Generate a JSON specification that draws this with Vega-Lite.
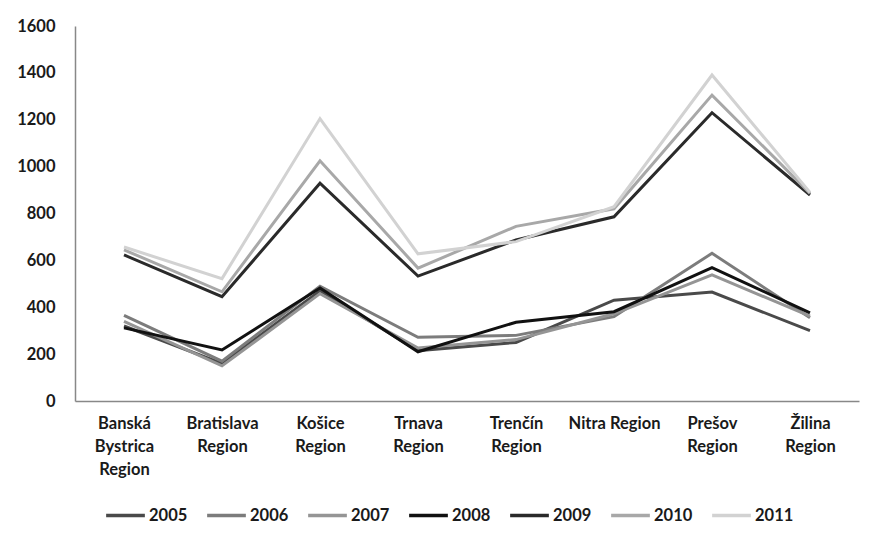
{
  "$schema": "https://vega.github.io/schema/vega-lite/v6.json",
  "width": 784,
  "height": 375,
  "autosize": {"type": "none"},
  "padding": {"left": 75, "top": 26, "right": 16, "bottom": 140},
  "background": "white",
  "data": {
    "values": [
      {"region": "Banská Bystrica Region", "year": "2005", "value": 320},
      {"region": "Bratislava Region", "year": "2005", "value": 160},
      {"region": "Košice Region", "year": "2005", "value": 470},
      {"region": "Trnava Region", "year": "2005", "value": 215},
      {"region": "Trenčín Region", "year": "2005", "value": 250},
      {"region": "Nitra Region", "year": "2005", "value": 430},
      {"region": "Prešov Region", "year": "2005", "value": 465},
      {"region": "Žilina Region", "year": "2005", "value": 300},

      {"region": "Banská Bystrica Region", "year": "2006", "value": 365},
      {"region": "Bratislava Region", "year": "2006", "value": 170},
      {"region": "Košice Region", "year": "2006", "value": 490},
      {"region": "Trnava Region", "year": "2006", "value": 272},
      {"region": "Trenčín Region", "year": "2006", "value": 280},
      {"region": "Nitra Region", "year": "2006", "value": 360},
      {"region": "Prešov Region", "year": "2006", "value": 630},
      {"region": "Žilina Region", "year": "2006", "value": 355},

      {"region": "Banská Bystrica Region", "year": "2007", "value": 340},
      {"region": "Bratislava Region", "year": "2007", "value": 150},
      {"region": "Košice Region", "year": "2007", "value": 458},
      {"region": "Trnava Region", "year": "2007", "value": 226},
      {"region": "Trenčín Region", "year": "2007", "value": 262},
      {"region": "Nitra Region", "year": "2007", "value": 372},
      {"region": "Prešov Region", "year": "2007", "value": 538},
      {"region": "Žilina Region", "year": "2007", "value": 362},

      {"region": "Banská Bystrica Region", "year": "2008", "value": 312},
      {"region": "Bratislava Region", "year": "2008", "value": 218},
      {"region": "Košice Region", "year": "2008", "value": 482},
      {"region": "Trnava Region", "year": "2008", "value": 210},
      {"region": "Trenčín Region", "year": "2008", "value": 336},
      {"region": "Nitra Region", "year": "2008", "value": 381},
      {"region": "Prešov Region", "year": "2008", "value": 569},
      {"region": "Žilina Region", "year": "2008", "value": 376},

      {"region": "Banská Bystrica Region", "year": "2009", "value": 623},
      {"region": "Bratislava Region", "year": "2009", "value": 445},
      {"region": "Košice Region", "year": "2009", "value": 929},
      {"region": "Trnava Region", "year": "2009", "value": 533},
      {"region": "Trenčín Region", "year": "2009", "value": 687},
      {"region": "Nitra Region", "year": "2009", "value": 786},
      {"region": "Prešov Region", "year": "2009", "value": 1230},
      {"region": "Žilina Region", "year": "2009", "value": 879},

      {"region": "Banská Bystrica Region", "year": "2010", "value": 645},
      {"region": "Bratislava Region", "year": "2010", "value": 466},
      {"region": "Košice Region", "year": "2010", "value": 1025},
      {"region": "Trnava Region", "year": "2010", "value": 567},
      {"region": "Trenčín Region", "year": "2010", "value": 745},
      {"region": "Nitra Region", "year": "2010", "value": 820},
      {"region": "Prešov Region", "year": "2010", "value": 1305},
      {"region": "Žilina Region", "year": "2010", "value": 886},

      {"region": "Banská Bystrica Region", "year": "2011", "value": 657},
      {"region": "Bratislava Region", "year": "2011", "value": 522},
      {"region": "Košice Region", "year": "2011", "value": 1205},
      {"region": "Trnava Region", "year": "2011", "value": 628},
      {"region": "Trenčín Region", "year": "2011", "value": 680},
      {"region": "Nitra Region", "year": "2011", "value": 829},
      {"region": "Prešov Region", "year": "2011", "value": 1391},
      {"region": "Žilina Region", "year": "2011", "value": 890}
    ]
  },
  "mark": {"type": "line", "strokeWidth": 3, "strokeJoin": "miter"},
  "encoding": {
    "x": {
      "field": "region",
      "type": "nominal",
      "sort": null,
      "scale": {"type": "point", "padding": 0.5},
      "axis": {
        "title": null,
        "labelAngle": 0,
        "ticks": false,
        "grid": false,
        "domainColor": "#888888",
        "domainWidth": 1.5,
        "labelPadding": 14,
        "labelLineHeight": 23,
        "labelBaseline": "top",
        "labelExpr": "datum.label == 'Nitra Region' ? datum.label : split(datum.label, ' ')"
      }
    },
    "y": {
      "field": "value",
      "type": "quantitative",
      "scale": {"domain": [0, 1600], "nice": false},
      "axis": {
        "title": null,
        "values": [0, 200, 400, 600, 800, 1000, 1200, 1400, 1600],
        "format": "d",
        "ticks": false,
        "grid": false,
        "domainColor": "#888888",
        "domainWidth": 1.5,
        "labelPadding": 20
      }
    },
    "color": {
      "field": "year",
      "type": "nominal",
      "scale": {
        "domain": ["2005", "2006", "2007", "2008", "2009", "2010", "2011"],
        "range": ["#4a4a4a", "#7c7c7c", "#959595", "#111111", "#2a2a2a", "#a8a8a8", "#d2d2d2"]
      },
      "legend": {
        "title": null,
        "orient": "none",
        "direction": "horizontal",
        "legendX": 29,
        "legendY": 468,
        "symbolType": "stroke",
        "symbolStrokeWidth": 3.5,
        "symbolSize": 1500,
        "columnPadding": 12,
        "labelOffset": 2
      }
    }
  },
  "config": {
    "font": "Lato",
    "view": {"stroke": null},
    "axis": {
      "labelFont": "Lato",
      "labelFontSize": 16.5,
      "labelFontWeight": "bold",
      "labelColor": "#1a1a1a"
    },
    "legend": {
      "labelFont": "Lato",
      "labelFontSize": 16.5,
      "labelFontWeight": "bold",
      "labelColor": "#1a1a1a"
    }
  }
}
